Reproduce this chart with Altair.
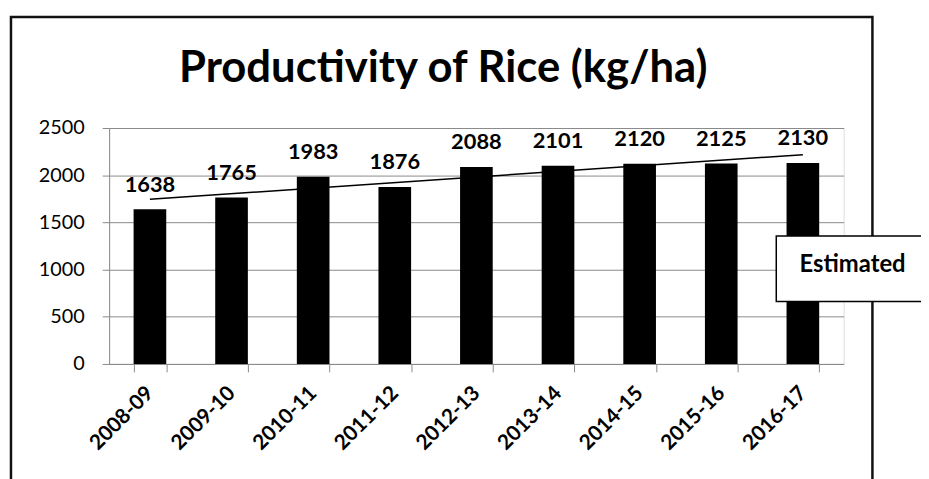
import altair as alt
import pandas as pd

years = ["2008-09", "2009-10", "2010-11", "2011-12", "2012-13",
         "2013-14", "2014-15", "2015-16", "2016-17"]
values = [1638, 1765, 1983, 1876, 2088, 2101, 2120, 2125, 2130]
y_ticks = [0, 500, 1000, 1500, 2000, 2500]
note = "Estimated"
title_text = "Productivity of Rice (kg/ha)"

df = pd.DataFrame({"year": years, "value": values, "idx": list(range(len(years)))})
one = pd.DataFrame({"a": [0]})

FONT = "Lato"
GREY = "#8a8a8a"

xenc = alt.X("year:N", sort=years,
             scale=alt.Scale(paddingInner=0.6, paddingOuter=0.3),
             axis=alt.Axis(title=None, labelAngle=-45, labelAlign="right",
                           labelBaseline="middle", labelPadding=18,
                           labelFont=FONT, labelFontSize=21, labelFontWeight="bold",
                           labelColor="black", tickBand="extent", tickSize=8,
                           tickColor=GREY, domainColor=GREY, grid=False))
yenc = alt.Y("value:Q",
             scale=alt.Scale(domain=[0, 2500], nice=False),
             axis=alt.Axis(title=None, values=y_ticks, format="d", labelFont=FONT,
                           labelFontSize=20, labelColor="black", labelPadding=18,
                           tickSize=7, tickColor=GREY, domainColor=GREY,
                           gridColor=GREY, grid=True))

border = alt.Chart(one).mark_rect(fill="white", fillOpacity=0, stroke="#111111",
                                   strokeWidth=2.5).encode(
    x=alt.value(-99), x2=alt.value(770), y=alt.value(-112), y2=alt.value(420))

title = alt.Chart(one).mark_text(font=FONT, fontSize=44, fontWeight="bold",
                                 color="black", align="center",
                                 baseline="alphabetic").encode(
    x=alt.value(337), y=alt.value(-46), text=alt.value(title_text))

bars = alt.Chart(df).mark_bar(color="black").encode(x=xenc, y=yenc)

labels = alt.Chart(df).mark_text(dy=-18, baseline="alphabetic", font=FONT,
                                 fontSize=22, fontWeight="bold",
                                 color="black").encode(
    x=alt.X("year:N", sort=years), y="value:Q", text="value:Q")

years_js = "[" + ",".join("'" + y + "'" for y in years) + "]"
trend = alt.Chart(df).transform_regression("idx", "value").transform_calculate(
    year=years_js + "[round(datum.idx)]"
).mark_line(color="black", strokeWidth=1.5).encode(
    x=alt.X("year:N", sort=years), y="value:Q")

box = alt.Chart(one).mark_rect(fill="white", stroke="black", strokeWidth=1.5).encode(
    x=alt.value(673), x2=alt.value(840), y=alt.value(109), y2=alt.value(175))
box_text = alt.Chart(one).mark_text(font=FONT, fontSize=24, fontWeight="bold",
                                    color="black", align="center",
                                    baseline="middle").encode(
    x=alt.value(750), y=alt.value(138), text=alt.value(note))

chart = alt.layer(border, title, bars, trend, labels, box, box_text).properties(
    width=741, height=238,
    autosize=alt.AutoSizeParams(type="none"),
    padding={"left": 102, "top": 119, "right": 78, "bottom": 114},
).configure_view(strokeWidth=0).configure(background="white")

chart.save("out.html", embed_options={"renderer": "svg", "actions": False})
